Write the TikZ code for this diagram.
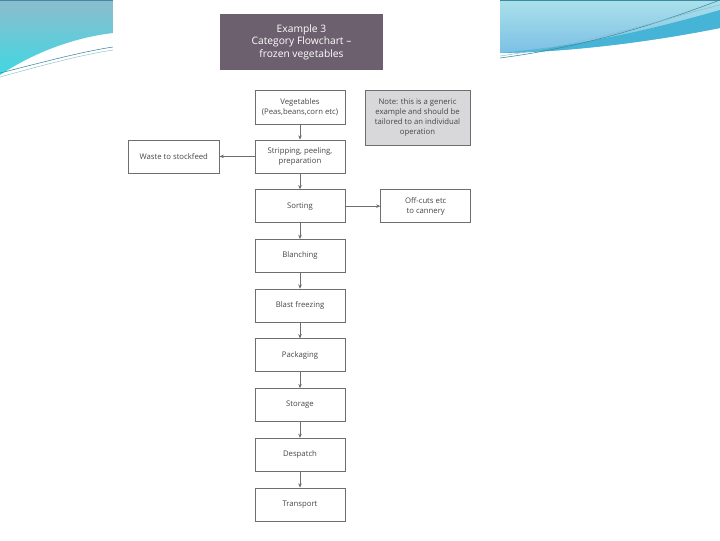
\documentclass[tikz,border=0pt]{standalone}
\usepackage{fontspec}
\setmainfont{Open Sans}
\usetikzlibrary{positioning,arrows.meta}
\definecolor{boxline}{RGB}{110,110,110}
\definecolor{boxtext}{RGB}{70,70,70}
\definecolor{titlefill}{RGB}{108,96,110}
\definecolor{notefill}{RGB}{216,216,218}
\definecolor{skytop}{RGB}{140,188,206}
\definecolor{skycyan}{RGB}{64,216,226}
\definecolor{skylight}{RGB}{170,224,234}
\definecolor{skyblue}{RGB}{124,192,230}
\definecolor{skyband}{RGB}{70,180,214}
\definecolor{skyline}{RGB}{60,140,160}

\begin{document}
\begin{tikzpicture}[x=0.025cm,y=-0.025cm,font=\fontsize{5.5}{7.2}\selectfont]
\tikzstyle{stage}=[draw=boxline,line width=0.5pt,text=boxtext,align=center,minimum width=2.25cm,minimum height=0.825cm,inner sep=1pt]
\tikzstyle{flow}=[draw=boxline,line width=0.4pt,-{Stealth[length=3pt,width=2.5pt]}]
\useasboundingbox (0,0) rectangle (720,540);

% slide background
\fill[white] (0,0) rectangle (720,540);
\shade[top color=skytop,bottom color=skycyan] (0,0) -- (113,0) -- (113,33) .. controls (70,38) and (30,55) .. (0,75) -- cycle;
\draw[skyline,line width=0.4pt] (0,73) .. controls (40,63) and (80,52) .. (113,47);
\draw[skyline!60,line width=0.3pt] (0,77) .. controls (40,66) and (80,55) .. (113,50);
\shade[top color=skylight,bottom color=skyblue] (500,0) -- (720,0) -- (720,28) .. controls (650,42) and (570,52) .. (500,53) -- cycle;
\fill[skyband] (720,10) .. controls (650,30) and (580,46) .. (500,53) .. controls (570,52) and (650,42) .. (720,28) -- cycle;
\draw[skyline,line width=0.4pt] (500,58) .. controls (600,45) and (680,15) .. (720,0);
\draw[skyline!60,line width=0.3pt] (500,56) .. controls (600,42) and (680,14) .. (720,5);
\draw[skyline,line width=1pt] (0,0) -- (720,0);

% scanned page
\fill[white] (113,0) rectangle (500,540);

% title and note
\node (title) at (301.5,42) [fill=titlefill,text=white,align=center,minimum width=4.075cm,minimum height=1.4cm,font=\fontsize{7.3}{9}\selectfont] {Example 3\\Category Flowchart --\\frozen vegetables};
\node (note) at (417.5,117.5) [stage,fill=notefill,minimum width=2.625cm,minimum height=1.375cm] {Note: this is a generic\\example and should be\\tailored to an individual\\operation};

% main flow
\node (veg) at (300,107) [stage,minimum height=0.85cm] {Vegetables\\(Peas,beans,corn etc)};
\node (strip) [stage,below=0.38cm of veg] {Stripping, peeling,\\preparation};
\node (sort) [stage,below=0.4cm of strip] {Sorting};
\node (blanch) [stage,below=0.4cm of sort] {Blanching};
\node (blast) [stage,below=0.4cm of blanch] {Blast freezing};
\node (pack) [stage,below=0.4cm of blast] {Packaging};
\node (store) [stage,below=0.4cm of pack] {Storage};
\node (desp) [stage,below=0.4cm of store] {Despatch};
\node (trans) [stage,below=0.4cm of desp] {Transport};

% side outputs
\node (waste) [stage,left=0.875cm of strip,minimum width=2.275cm] {Waste to stockfeed};
\node (offcut) [stage,right=0.875cm of sort] {Off-cuts etc\\to cannery};

\draw[flow] (veg) -- (strip);
\draw[flow] (strip) -- (sort);
\draw[flow] (sort) -- (blanch);
\draw[flow] (blanch) -- (blast);
\draw[flow] (blast) -- (pack);
\draw[flow] (pack) -- (store);
\draw[flow] (store) -- (desp);
\draw[flow] (desp) -- (trans);
\draw[flow] (strip) -- (waste);
\draw[flow] (sort) -- (offcut);

\end{tikzpicture}
\end{document}
